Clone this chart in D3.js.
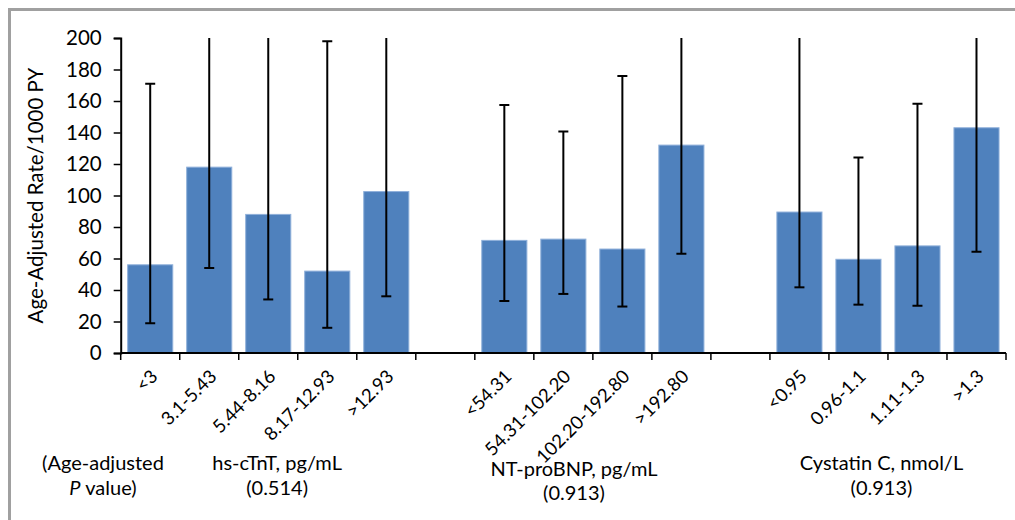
<!DOCTYPE html>
<html><head><meta charset="utf-8">
<script src="https://cdn.jsdelivr.net/npm/d3@7"></script>
<style>body{margin:0;background:#fff}svg{display:block}text{font-family:Lato,"Liberation Sans",sans-serif;fill:#000}</style>
</head><body>
<svg id="c" width="1015" height="520"></svg>
<script>
// "gap" entries are empty slots between groups
const categories = ["<3","3.1-5.43","5.44-8.16","8.17-12.93",">12.93","gap1","<54.31","54.31-102.20","102.20-192.80",">192.80","gap2","<0.95","0.96-1.1","1.11-1.3",">1.3"];
const rates = [56, 118, 88, 52, 102.5, null, 71.5, 72.3, 66, 132, null, 89.5, 59.5, 68, 143];
const lowerCI = [18.9, 54, 34, 16, 36, null, 33, 37.5, 29.5, 63, null, 41.7, 30.7, 30, 64.3];
const upperCI = [171, 260, 260, 198, 260, null, 157.5, 140.7, 175.9, 260, null, 260, 124.2, 158.3, 260];
const yTicks = [0,20,40,60,80,100,120,140,160,180,200];
const yTitle = "Age-Adjusted Rate/1000 PY";
const groupLabels = [
  {lines:["(Age-adjusted", "P value)"], slotCenter: -0.8, dy: 0},
  {lines:["hs-cTnT, pg/mL","(0.514)"], slotCenter: 2.15, dy: 0},
  {lines:["NT-proBNP, pg/mL","(0.913)"], slotCenter: 7.18, dy: 5.5},
  {lines:["Cystatin C, nmol/L","(0.913)"], slotCenter: 12.39, dy: 0}
];

const svg = d3.select("#c");
const m = {left:120.7, right:1006, top:38, bottom:353};

// frame
svg.append("line").attr("x1",9.5).attr("x2",9.5).attr("y1",8).attr("y2",520).attr("stroke","#a0a0a0").attr("stroke-width",3);
svg.append("line").attr("x1",8).attr("x2",1015).attr("y1",9.5).attr("y2",9.5).attr("stroke","#a0a0a0").attr("stroke-width",3);

const x = d3.scaleBand().domain(categories).range([m.left,m.right]).paddingInner(0.236).paddingOuter(0.118);
const y = d3.scaleLinear().domain([0,200]).range([m.bottom,m.top]);

svg.append("defs").append("clipPath").attr("id","plot").append("rect")
  .attr("x",m.left).attr("y",m.top).attr("width",m.right-m.left).attr("height",m.bottom-m.top);

const data = categories.map((c,i)=>({c, v:rates[i], lo:lowerCI[i], hi:upperCI[i]})).filter(d=>d.v!==null);

svg.append("g").selectAll("rect").data(data).join("rect")
  .attr("x",d=>x(d.c)).attr("width",x.bandwidth())
  .attr("y",d=>y(d.v)).attr("height",d=>y(0)-y(d.v))
  .attr("fill","#4F81BD").attr("stroke","#8FB0DA").attr("stroke-width",1);

// error bars
const eg = svg.append("g").attr("clip-path","url(#plot)");
data.forEach(d=>{
  const cx = x(d.c)+x.bandwidth()/2;
  eg.append("line").attr("x1",cx).attr("x2",cx).attr("y1",y(d.lo)).attr("y2",y(d.hi)).attr("stroke","#000").attr("stroke-width",2);
  eg.append("line").attr("x1",cx-5).attr("x2",cx+5).attr("y1",y(d.lo)).attr("y2",y(d.lo)).attr("stroke","#000").attr("stroke-width",2);
  if (d.hi<=200) eg.append("line").attr("x1",cx-5).attr("x2",cx+5).attr("y1",y(d.hi)).attr("y2",y(d.hi)).attr("stroke","#000").attr("stroke-width",2);
});

// y axis
const ya = svg.append("g").attr("transform",`translate(${m.left},0)`)
  .call(d3.axisLeft(y).tickValues(yTicks).tickSize(7).tickPadding(12));
ya.select(".domain").attr("stroke","#000").attr("stroke-width",2);
ya.selectAll(".tick line").attr("stroke","#000").attr("stroke-width",1.5);
ya.selectAll(".tick text").attr("font-size",20.5).attr("font-family","Lato");

// x axis: ticks at slot boundaries
const step = x.step();
const bounds = d3.range(categories.length+1).map(i=>m.left + i*step);
const xa = svg.append("g");
xa.append("line").attr("x1",m.left).attr("x2",m.right).attr("y1",m.bottom).attr("y2",m.bottom).attr("stroke","#000").attr("stroke-width",2);
xa.selectAll("line.t").data(bounds).join("line").attr("class","t")
  .attr("x1",d=>d).attr("x2",d=>d).attr("y1",m.bottom).attr("y2",m.bottom+7).attr("stroke","#000").attr("stroke-width",1.5);

xa.selectAll("text").data(data).join("text")
  .attr("transform",d=>`translate(${x(d.c)+x.bandwidth()/2+4},${m.bottom+20}) rotate(-45)`)
  .attr("text-anchor","end").attr("dy","0.35em").attr("font-size",18.5).text(d=>d.c);

// y title
svg.append("text").attr("transform",`translate(42.5,${(m.top+m.bottom)/2}) rotate(-90)`)
  .attr("text-anchor","middle").attr("font-size",20.5).text(yTitle);

// group labels
groupLabels.forEach(g=>{
  const cx = m.left + (g.slotCenter+0.5)*step;
  const t = svg.append("text").attr("text-anchor","middle").attr("font-size",20);
  g.lines.forEach((ln,i)=>{
    const ts = t.append("tspan").attr("x",cx).attr("y",470+g.dy+i*24.5);
    if (ln.startsWith("P ")) {
      ts.append("tspan").attr("font-style","italic").text("P");
      ts.append("tspan").text(ln.slice(1));
    } else ts.text(ln);
  });
});
</script>
</body></html>
